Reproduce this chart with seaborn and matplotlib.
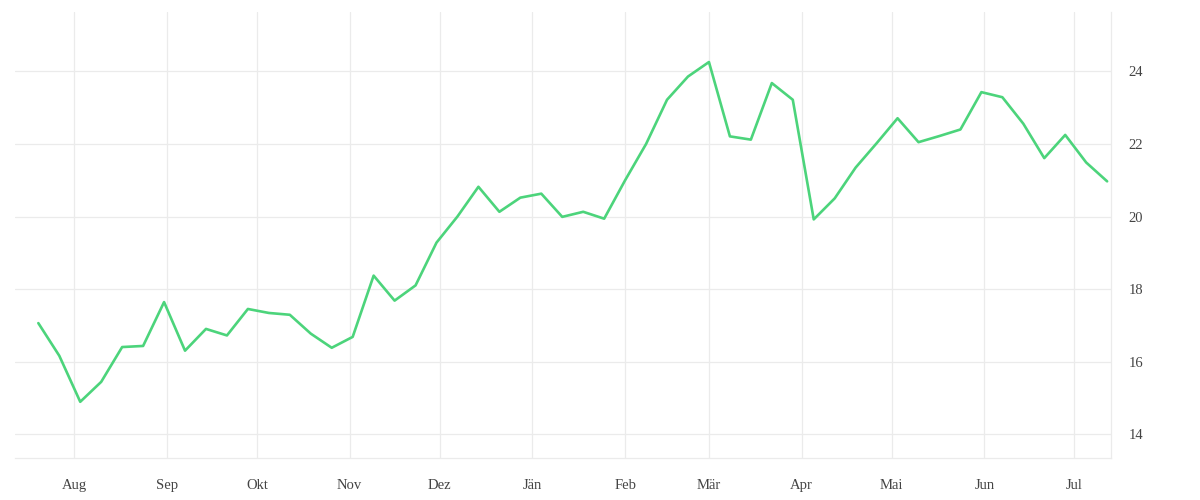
import pandas as pd
import seaborn as sns
import matplotlib.pyplot as plt
import matplotlib.dates as mdates
from matplotlib.ticker import FixedLocator

# Wöchentliche Werte
start = "2022-07-20"
werte = [17.06, 16.16, 14.89, 15.44, 16.40, 16.43, 17.64, 16.30, 16.90, 16.72,
         17.45, 17.34, 17.29, 16.77, 16.38, 16.68, 18.37, 17.68, 18.10, 19.28,
         20.00, 20.82, 20.13, 20.52, 20.63, 19.99, 20.13, 19.94, 21.00, 22.00,
         23.22, 23.86, 24.26, 22.21, 22.12, 23.68, 23.22, 19.92, 20.50, 21.35,
         22.02, 22.71, 22.05, 22.22, 22.40, 23.43, 23.29, 22.56, 21.61, 22.25,
         21.49, 20.97]
monate = ["Aug", "Sep", "Okt", "Nov", "Dez", "Jän", "Feb", "Mär", "Apr", "Mai", "Jun", "Jul"]
monat_start = pd.date_range("2022-08-01", periods=12, freq="MS")
y_ticks = [14, 16, 18, 20, 22, 24]

data = pd.DataFrame({"datum": pd.date_range(start, periods=len(werte), freq="7D"),
                     "wert": werte})

sns.set_theme(style="whitegrid")
plt.rcParams["font.family"] = ["Liberation Serif", "DejaVu Serif"]

fig = plt.figure(figsize=(12, 5), dpi=100)
ax = fig.add_axes([15 / 1200, 1 - 458 / 500, (1111 - 15) / 1200, (458 - 12) / 500])

sns.lineplot(data=data, x="datum", y="wert", ax=ax, color="#4cd47b", linewidth=1.9)

ax.set_xlim(pd.Timestamp("2022-07-12 05:00"), pd.Timestamp("2023-07-13 07:00"))
ax.set_ylim(13.34, 25.64)

ax.xaxis.set_major_locator(FixedLocator(mdates.date2num(monat_start)))
ax.set_xticklabels(monate)
ax.yaxis.tick_right()
ax.set_yticks(y_ticks)

ax.set_xlabel("")
ax.set_ylabel("")
ax.grid(True, color="#ebebeb", linewidth=0.9)
ax.tick_params(axis="both", labelsize=10.5, labelcolor="#444444")
ax.tick_params(axis="x", length=7, width=0.9, color="#ebebeb", pad=8)
ax.tick_params(axis="y", length=0, pad=12.5)

for s in ["left", "top"]:
    ax.spines[s].set_visible(False)
for s in ["bottom", "right"]:
    ax.spines[s].set_color("#ebebeb")
    ax.spines[s].set_linewidth(0.9)

plt.savefig("out.png", dpi=100)
